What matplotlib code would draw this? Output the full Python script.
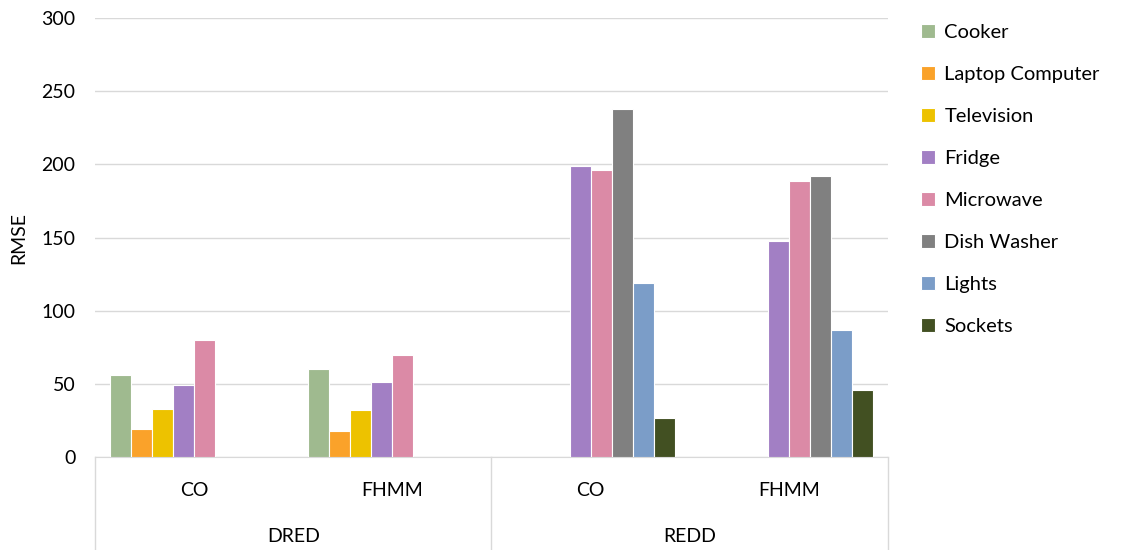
import numpy as np
import matplotlib.pyplot as plt

plt.rcParams['font.family'] = ['Lato', 'DejaVu Sans']

# categories (two-level x axis)
methods = ['CO', 'FHMM', 'CO', 'FHMM']
datasets = ['DRED', 'REDD']

appliances = ['Cooker', 'Laptop Computer', 'Television', 'Fridge',
              'Microwave', 'Dish Washer', 'Lights', 'Sockets']
colors = ['#9FBA8F', '#FAA22A', '#EDC200', '#A27FC4',
          '#DB8AA6', '#808080', '#7B9DC8', '#425022']

nan = np.nan
cooker = [56, 60, nan, nan]
laptop = [19, 18, nan, nan]
television = [33, 32, nan, nan]
fridge = [49, 51, 199, 148]
microwave = [80, 70, 196, 189]
dish_washer = [nan, nan, 238, 192]
lights = [nan, nan, 119, 87]
sockets = [nan, nan, 27, 46]
series = [cooker, laptop, television, fridge, microwave,
          dish_washer, lights, sockets]

fig = plt.figure(figsize=(11.26, 5.5), dpi=100)
ax = fig.add_axes([0.0844, 0.169, 0.7042, 0.798])

x = np.arange(len(methods))
w = 0.106
for i, (vals, name) in enumerate(zip(series, appliances)):
    ax.bar(x + (i - 3.5) * w, vals, w, color=colors[i], label=name,
           edgecolor='white', linewidth=0.8, zorder=3)

ax.set_ylim(0, 300)
ax.set_xlim(-0.5, 3.5)
ax.set_yticks(range(0, 301, 50))
ax.grid(axis='y', color='#D9D9D9', linewidth=1, zorder=0)
ax.tick_params(axis='y', length=0, labelsize=14, pad=14)
ax.tick_params(axis='x', length=0, labelbottom=False)
for s in ['top', 'right', 'left']:
    ax.spines[s].set_visible(False)
ax.spines['bottom'].set_color('#D9D9D9')
ax.set_ylabel('RMSE', fontsize=14, labelpad=10)

# two-level category labels and separators
trans = ax.get_xaxis_transform()
for xi, m in zip(x, methods):
    ax.text(xi, -0.077, m, transform=trans, ha='center', va='center',
            fontsize=14)
for j, d in enumerate(datasets):
    ax.text(2 * j + 0.5, -0.182, d, transform=trans, ha='center',
            va='center', fontsize=14)
for xs in [-0.5, 1.5, 3.5]:
    ax.plot([xs, xs], [0, -0.215], transform=trans, color='#D9D9D9',
            linewidth=1, clip_on=False)

fig.legend(loc='upper left', bbox_to_anchor=(0.802, 0.99), frameon=False,
           fontsize=14.5, handlelength=0.7, handleheight=0.7,
           handletextpad=0.45, labelspacing=1.24)

fig.savefig('out.png', dpi=100)
